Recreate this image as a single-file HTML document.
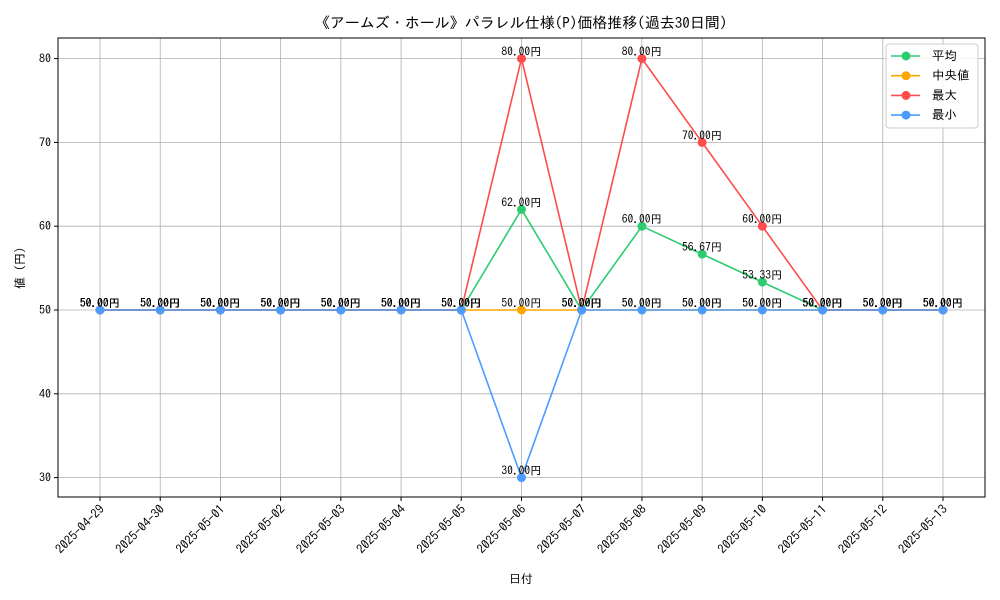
<!DOCTYPE html>
<html><head><meta charset="utf-8"><style>
body{margin:0;background:#fff;}
svg{display:block;font-family:"IPAGothic","Noto Sans CJK JP",sans-serif;}
</style></head><body>
<svg id="c" width="1000" height="600" xmlns="http://www.w3.org/2000/svg"></svg>
<script>
const dates=["2025-04-29","2025-04-30","2025-05-01","2025-05-02","2025-05-03","2025-05-04","2025-05-05","2025-05-06","2025-05-07","2025-05-08","2025-05-09","2025-05-10","2025-05-11","2025-05-12","2025-05-13"];
const avgVals=[50,50,50,50,50,50,50,62,50,60,56.67,53.33,50,50,50];
const medVals=[50,50,50,50,50,50,50,50,50,50,50,50,50,50,50];
const maxVals=[50,50,50,50,50,50,50,80,50,80,70,60,50,50,50];
const minVals=[50,50,50,50,50,50,50,30,50,50,50,50,50,50,50];
const yTicks=[30,40,50,60,70,80];
const seriesNames=["平均","中央値","最大","最小"];
const colors=["#2ecc71","#ffa500","#ff4c4c","#4c9bff"];

const svg=document.getElementById('c');
const NS="http://www.w3.org/2000/svg";
const L=58,R=985,T=38,B=497;
const x=i=>100+i*(943-100)/(dates.length-1);
const y=v=>310-(v-50)*8.38;
function mk(t,a,p){const e=document.createElementNS(NS,t);for(const k in a)e.setAttribute(k,a[k]);(p||svg).appendChild(e);return e;}
let t=mk('text',{x:521,y:28,'text-anchor':'middle','font-size':15});t.textContent="《アームズ・ホール》パラレル仕様(P)価格推移(過去30日間)";


yTicks.forEach(v=>{
  const g=mk('line',{x1:L,x2:R,y1:y(v),y2:y(v),stroke:'#b0b0b0','stroke-width':0.8});
  
  
  mk('line',{x1:L-4,x2:L,y1:y(v),y2:y(v),stroke:'#000'});
  const tx=mk('text',{x:L-7,y:y(v)+4,'text-anchor':'end','font-size':12});tx.textContent=v;
  
  
});
dates.forEach((d,i)=>{
  const g=mk('line',{x1:x(i),x2:x(i),y1:T,y2:B,stroke:'#b0b0b0','stroke-width':0.8});
  
  
  mk('line',{x1:x(i),x2:x(i),y1:B,y2:B+4,stroke:'#000'});
  const tx=mk('text',{x:x(i)+5,y:B+13,'text-anchor':'end','font-size':12.5,transform:`rotate(-45 ${x(i)+5} ${B+13})`});tx.textContent=d;
  
  
});
const fr=mk('rect',{x:L,y:T,width:R-L,height:B-T,fill:'none',stroke:'#000','stroke-width':1});


let xl=mk('text',{x:521,y:583,'text-anchor':'middle','font-size':12});xl.textContent="日付";


let yl=mk('text',{x:24,y:268,'text-anchor':'middle','font-size':12,transform:'rotate(-90 24 268)'});yl.textContent="値 (円)";


const all=[avgVals,medVals,maxVals,minVals];
all.forEach((vals,s)=>{
  const p=mk('polyline',{points:vals.map((v,i)=>x(i)+','+y(v)).join(' '),fill:'none',stroke:colors[s],'stroke-width':1.6});
  
  
  vals.forEach((v,i)=>{
    const c=mk('circle',{cx:x(i),cy:y(v),r:4.5,fill:colors[s]});
    
    
  });
});
all.forEach((vals,s)=>{
  vals.forEach((v,i)=>{
    const tx=mk('text',{x:x(i),y:y(v)-3,'text-anchor':'middle','font-size':11.5});tx.textContent=v.toFixed(2)+"円";
    
    
  });
});
const lg=mk('g',{});


mk('rect',{x:886,y:44,width:92,height:84,rx:3,fill:'#fff','fill-opacity':0.85,stroke:'#ccc'},lg);
seriesNames.forEach((n,s)=>{
  const yy=56+s*19.7;
  const e=mk('g',{},lg);
  
  
  mk('line',{x1:891,x2:920,y1:yy,y2:yy,stroke:colors[s],'stroke-width':1.6},e);
  mk('circle',{cx:906,cy:yy,r:4.5,fill:colors[s]},e);
  const tx=mk('text',{x:932,y:yy+4,'font-size':12.5},e);tx.textContent=n;
});
</script>
</body></html>
